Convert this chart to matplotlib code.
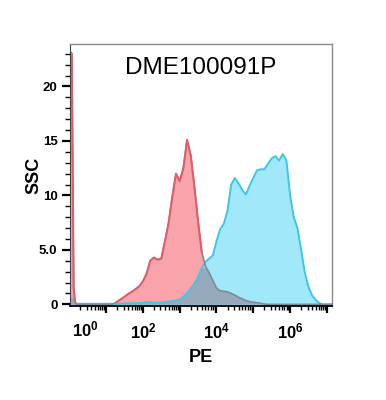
import numpy as np
import matplotlib
matplotlib.use('Agg')
import matplotlib.pyplot as plt
import matplotlib.ticker as ticker

plt.rcParams['font.family'] = ['Liberation Sans', 'DejaVu Sans']
plt.rcParams['mathtext.fontset'] = 'custom'
plt.rcParams['mathtext.rm'] = 'Liberation Sans'
plt.rcParams['mathtext.bf'] = 'Liberation Sans:bold'

# PE position in decades (log10), common grid for both histograms
pe_log = [0.02, 0.07, 0.12, 0.16, 0.2, 0.3, 0.4, 0.5, 0.6, 0.7, 0.8, 0.9, 1.0, 1.1,
          1.2, 1.3, 1.4, 1.5, 1.6, 1.7, 1.8, 1.9, 2.0, 2.1, 2.2, 2.3, 2.4, 2.5,
          2.6, 2.7, 2.8, 2.9, 3.0, 3.1, 3.2, 3.3, 3.4, 3.5, 3.6, 3.7, 3.8, 3.9,
          4.0, 4.1, 4.2, 4.3, 4.4, 4.5, 4.6, 4.7, 4.8, 4.9, 5.0, 5.1, 5.2, 5.3,
          5.4, 5.5, 5.6, 5.7, 5.8, 5.9, 6.0, 6.1, 6.2, 6.3, 6.4, 6.5, 6.6, 6.7,
          6.8, 6.9, 7.0, 7.14]

# control (red)
ssc_control = [23.2, 23.0, 1.5, 0.2, 0.0, 0.0, 0.0, 0.0, 0.0, 0.0, 0.0, 0.0, 0.0, 0.0,
               0.05, 0.25, 0.45, 0.7, 0.95, 1.15, 1.4, 1.65, 2.1, 2.8, 4.0, 4.3, 4.1, 4.2,
               5.8, 7.5, 9.9, 12.0, 11.3, 12.5, 15.1, 13.7, 10.8, 7.6, 4.8, 3.5, 2.9, 2.2,
               1.5, 1.25, 1.2, 1.15, 1.0, 0.85, 0.65, 0.5, 0.35, 0.25, 0.2, 0.15, 0.1, 0.03,
               0.0, 0.0, 0.0, 0.0, 0.0, 0.0, 0.0, 0.0, 0.0, 0.0, 0.0, 0.0, 0.0, 0.0,
               0.0, 0.0, 0.0, 0.0]

# DME100091P (blue)
ssc_sample = [0.5, 0.5, 0.35, 0.1, 0.05, 0.05, 0.05, 0.05, 0.05, 0.05, 0.05, 0.05, 0.05, 0.05,
              0.05, 0.05, 0.05, 0.08, 0.1, 0.1, 0.1, 0.12, 0.15, 0.2, 0.2, 0.15, 0.15, 0.15,
              0.2, 0.25, 0.3, 0.35, 0.45, 0.7, 1.0, 1.45, 1.9, 2.5, 3.3, 3.9, 4.2, 4.5,
              5.8, 6.9, 7.4, 8.6, 11.0, 11.6, 11.1, 10.5, 10.1, 10.9, 11.6, 12.3, 12.4, 12.4,
              12.9, 13.4, 13.6, 13.2, 13.8, 13.2, 10.0, 8.0, 7.0, 5.0, 2.9, 1.6, 0.8, 0.4,
              0.1, 0.0, 0.0, 0.0]

title = 'DME100091P'
ytick_vals = [0, 5, 10, 15, 20]
ytick_labels = ['0', '5.0', '10', '15', '20']


def make_histogram_plot():
    fig = plt.figure(figsize=(3.86, 4.0), dpi=100)
    ax = fig.add_axes([0.1813, 0.235, 0.679, 0.655])

    x = np.array(pe_log)
    red = np.array(ssc_control)
    blue = np.array(ssc_sample)
    both = np.minimum(red, blue)

    ax.fill_between(x, red, 0, color='#F9A4AA', lw=0)
    ax.fill_between(x, blue, 0, color='#A0E8FA', lw=0)
    ax.fill_between(x, both, 0, color='#97AABB', lw=0)
    ax.plot(x, blue, color='#3EC6E6', lw=1.4)
    red_line = np.where(red > blue, red, np.nan)
    ax.plot(x, red, color='#7E8A99', lw=1.2)
    ax.plot(x, red_line, color='#E85A66', lw=1.4)

    ax.set_xlim(0.02, 7.14)
    ax.set_ylim(-0.15, 23.9)

    # log-like ticks on a decade axis
    ax.xaxis.set_major_locator(ticker.FixedLocator(range(1, 8)))
    minors = [np.log10(k * 10.0 ** n) for n in range(0, 7) for k in range(2, 10)]
    ax.xaxis.set_minor_locator(ticker.FixedLocator(minors))
    ax.xaxis.set_major_formatter(ticker.FuncFormatter(
        lambda v, p: r'$\mathbf{10^{%d}}$' % v if int(round(v)) % 2 == 0 else ''))
    # 10^0 label sits just inside the left edge
    ax.annotate(r'$\mathbf{10^{0}}$', xy=(0.45, 0), xycoords=('data', 'axes fraction'),
                xytext=(0, -10), textcoords='offset points',
                ha='center', va='top', fontsize=12)

    ax.set_yticks(ytick_vals, ytick_labels)
    ax.yaxis.set_minor_locator(ticker.MultipleLocator(1))

    ax.tick_params(axis='x', which='major', direction='out', length=5, width=1.6,
                   labelsize=12, pad=6.5)
    ax.tick_params(axis='x', which='minor', direction='out', length=3, width=1)
    ax.tick_params(axis='y', which='major', direction='out', length=6, width=1.6,
                   labelsize=9.5, pad=3)
    ax.tick_params(axis='y', which='minor', direction='out', length=3.5, width=1)
    for lab in ax.get_yticklabels():
        lab.set_fontweight('bold')

    for side in ['top', 'right']:
        ax.spines[side].set_color('#8a8a8a')
        ax.spines[side].set_linewidth(1.0)
    ax.spines['left'].set_color('#444444')
    ax.spines['bottom'].set_color('black')
    ax.spines['bottom'].set_linewidth(1.3)

    ax.text(0.5, 0.908, title, transform=ax.transAxes, ha='center', va='center',
            fontsize=17.5)

    ax.set_xlabel('PE', fontsize=13, fontweight='bold')
    ax.set_ylabel('SSC', fontsize=13, fontweight='bold')
    ax.xaxis.set_label_coords(0.5, -0.165)
    ax.yaxis.set_label_coords(-0.105, 0.5)

    fig.savefig('out.png', dpi=100)


if __name__ == '__main__':
    make_histogram_plot()
